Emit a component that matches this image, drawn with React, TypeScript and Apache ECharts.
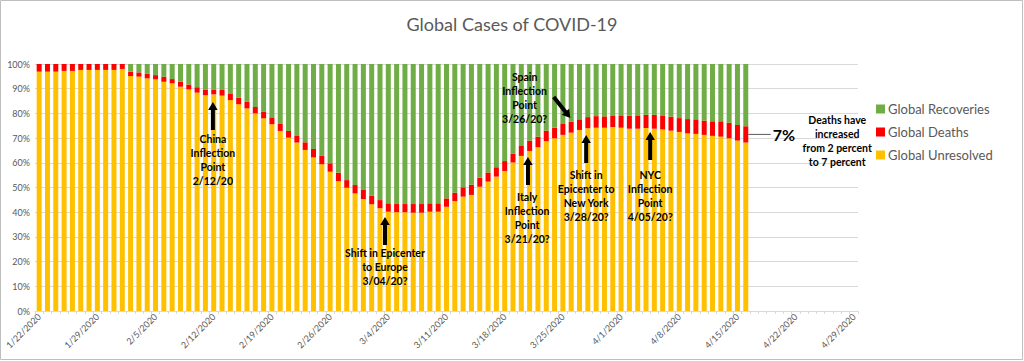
import React, { useEffect, useRef } from "react";
import * as echarts from "echarts";

const categories: string[] = [
  "1/22/2020","1/23/2020","1/24/2020","1/25/2020","1/26/2020","1/27/2020","1/28/2020","1/29/2020","1/30/2020","1/31/2020",
  "2/1/2020","2/2/2020","2/3/2020","2/4/2020","2/5/2020","2/6/2020","2/7/2020","2/8/2020","2/9/2020","2/10/2020",
  "2/11/2020","2/12/2020","2/13/2020","2/14/2020","2/15/2020","2/16/2020","2/17/2020","2/18/2020","2/19/2020","2/20/2020",
  "2/21/2020","2/22/2020","2/23/2020","2/24/2020","2/25/2020","2/26/2020","2/27/2020","2/28/2020","2/29/2020",
  "3/1/2020","3/2/2020","3/3/2020","3/4/2020","3/5/2020","3/6/2020","3/7/2020","3/8/2020","3/9/2020","3/10/2020",
  "3/11/2020","3/12/2020","3/13/2020","3/14/2020","3/15/2020","3/16/2020","3/17/2020","3/18/2020","3/19/2020","3/20/2020",
  "3/21/2020","3/22/2020","3/23/2020","3/24/2020","3/25/2020","3/26/2020","3/27/2020","3/28/2020","3/29/2020","3/30/2020","3/31/2020",
  "4/1/2020","4/2/2020","4/3/2020","4/4/2020","4/5/2020","4/6/2020","4/7/2020","4/8/2020","4/9/2020","4/10/2020",
  "4/11/2020","4/12/2020","4/13/2020","4/14/2020","4/15/2020","4/16/2020","4/17/2020","4/18/2020","4/19/2020","4/20/2020",
  "4/21/2020","4/22/2020","4/23/2020","4/24/2020","4/25/2020","4/26/2020","4/27/2020","4/28/2020","4/29/2020",
];

const unresolved: number[] = [
  96.9, 96.9, 96.9, 97.2, 97.2, 97.6, 97.6, 97.6, 97.6, 97.6,
  98.0, 95.1, 94.9, 94.2, 93.8, 92.8, 92.2, 90.8, 89.7, 88.4,
  87.4, 87.7, 87.2, 85.4, 83.7, 82.0, 80.0, 78.0, 75.6, 72.9,
  70.2, 68.2, 65.2, 62.2, 59.4, 56.4, 52.6, 49.9, 47.6, 45.3,
  43.2, 41.6, 40.2, 40.0, 40.0, 39.8, 39.8, 40.2, 40.2, 42.2,
  44.5, 46.3, 47.0, 50.3, 52.4, 54.4, 56.7, 60.1, 62.8, 64.8,
  66.3, 68.8, 69.9, 71.3, 72.2, 73.3, 74.0, 74.2, 74.2, 74.5,
  74.2, 73.8, 73.8, 74.1, 73.8, 73.5, 73.0, 72.5, 71.9, 71.7,
  71.3, 70.9, 70.6, 69.9, 69.0, 68.2,
];

const deaths: number[] = [
  3.1, 3.1, 3.1, 2.8, 2.8, 2.4, 2.4, 2.4, 2.4, 2.4,
  2.0, 1.8, 1.7, 1.8, 1.7, 2.1, 1.7, 2.0, 2.0, 2.2,
  2.1, 2.0, 2.3, 2.7, 2.7, 2.8, 2.6, 2.6, 2.8, 2.8,
  2.7, 2.9, 3.1, 3.4, 3.4, 3.4, 3.4, 3.1, 3.4, 3.7,
  3.5, 3.3, 3.4, 3.3, 3.3, 3.5, 3.5, 3.4, 3.4, 3.4,
  3.4, 3.8, 4.1, 3.7, 3.7, 3.8, 4.0, 3.7, 4.0, 4.2,
  4.3, 4.2, 4.3, 4.4, 4.5, 4.3, 4.5, 4.7, 4.6, 4.7,
  5.0, 5.3, 5.4, 5.3, 5.6, 5.7, 5.7, 5.6, 5.8, 5.9,
  5.8, 5.9, 6.2, 6.3, 6.3, 6.6,
];

const recoveries: number[] = [
  0, 0, 0, 0, 0, 0, 0, 0, 0, 0,
  0, 3.1, 3.4, 4.0, 4.5, 5.1, 6.1, 7.2, 8.3, 9.4,
  10.5, 10.3, 10.5, 11.9, 13.6, 15.2, 17.4, 19.4, 21.6, 24.3,
  27.1, 28.9, 31.7, 34.4, 37.2, 40.2, 44.0, 47.0, 49.0, 51.0,
  53.3, 55.1, 56.4, 56.7, 56.7, 56.7, 56.7, 56.4, 56.4, 54.4,
  52.1, 49.9, 48.9, 46.0, 43.9, 41.8, 39.3, 36.2, 33.2, 31.0,
  29.4, 27.0, 25.8, 24.3, 23.3, 22.4, 21.5, 21.1, 21.2, 20.8,
  20.8, 20.9, 20.8, 20.6, 20.6, 20.8, 21.3, 21.9, 22.3, 22.4,
  22.9, 23.2, 23.2, 23.8, 24.7, 25.2,
];

const seriesNames = ["Global Unresolved", "Global Deaths", "Global Recoveries"];
const legendOrder = ["Global Recoveries", "Global Deaths", "Global Unresolved"];

// Annotations anchored in data space (category index, percent)
const annotations = [
  { text: "China\nInflection\nPoint\n2/12/20", textIdx: 20.9, textPct: 72.5, tail: [20.9, 73.3], tip: [20.9, 84.6] },
  { text: "Shift in Epicenter\nto Europe\n3/04/20?", textIdx: 41.6, textPct: 26.3, tail: [41.6, 26.7], tip: [41.6, 38.1] },
  { text: "Italy\nInflection\nPoint\n3/21/20?", textIdx: 58.7, textPct: 49.0, tail: [58.8, 51.0], tip: [58.8, 62.3] },
  { text: "Spain\nInflection\nPoint\n3/26/20?", textIdx: 58.4, textPct: 97.6, tail: [61.9, 86.6], tip: [63.9, 78.1] },
  { text: "Shift in\nEpicenter to\nNew York\n3/28/20?", textIdx: 65.8, textPct: 57.9, tail: [65.8, 59.9], tip: [65.8, 71.3] },
  { text: "NYC\nInflection\nPoint\n4/05/20?", textIdx: 73.5, textPct: 57.9, tail: [73.5, 61.1], tip: [73.5, 72.5] },
];
const calloutText = "Deaths have\nincreased\nfrom 2 percent\nto 7 percent";
const calloutValue = "7%";

const FONT = "Lato, 'Open Sans', sans-serif";

function arrowPoints(tail: number[], tip: number[], shaftW = 4, headW = 9.5, headL = 8) {
  const dx = tip[0] - tail[0];
  const dy = tip[1] - tail[1];
  const len = Math.hypot(dx, dy) || 1;
  const ux = dx / len, uy = dy / len;
  const nx = -uy, ny = ux;
  const bx = tip[0] - ux * headL, by = tip[1] - uy * headL;
  return [
    [tail[0] + (nx * shaftW) / 2, tail[1] + (ny * shaftW) / 2],
    [bx + (nx * shaftW) / 2, by + (ny * shaftW) / 2],
    [bx + (nx * headW) / 2, by + (ny * headW) / 2],
    [tip[0], tip[1]],
    [bx - (nx * headW) / 2, by - (ny * headW) / 2],
    [bx - (nx * shaftW) / 2, by - (ny * shaftW) / 2],
    [tail[0] - (nx * shaftW) / 2, tail[1] - (ny * shaftW) / 2],
  ];
}

export default function App() {
  const ref = useRef<HTMLDivElement>(null);

  useEffect(() => {
    if (!ref.current) return;
    const chart = echarts.init(ref.current, undefined, { renderer: "svg" });
    const colors = ["#FFC000", "#FF0000", "#70AD47"];
    const dataSets = [unresolved, deaths, recoveries];

    const option: any = {
      animation: false,
      backgroundColor: "#ffffff",
      title: {
        text: "Global Cases of COVID-19",
        left: "center",
        top: 10,
        textStyle: { fontSize: 18, fontWeight: "normal", color: "#595959", fontFamily: FONT },
      },
      legend: {
        orient: "vertical",
        left: 876,
        top: 102,
        padding: 0,
        itemWidth: 9,
        itemHeight: 9,
        itemGap: 9,
        icon: "rect",
        data: legendOrder,
        textStyle: { fontSize: 13, color: "#595959", fontFamily: FONT, lineHeight: 14, padding: [0, 0, 0, -2] },
      },
      grid: { left: 35, right: 166, top: 64, bottom: 50 },
      xAxis: {
        type: "category",
        data: categories,
        boundaryGap: true,
        axisLine: { lineStyle: { color: "#d9d9d9" } },
        axisTick: { show: true, interval: 0, length: 3, alignWithLabel: false, lineStyle: { color: "#d9d9d9" } },
        axisLabel: { interval: 6, rotate: 45, fontSize: 9, color: "#595959", margin: 4, fontFamily: FONT },
      },
      yAxis: {
        type: "value",
        min: 0,
        max: 100,
        interval: 10,
        axisLine: { show: false },
        axisTick: { show: false },
        axisLabel: { formatter: "{value}%", fontSize: 9, color: "#595959", margin: 5, fontFamily: FONT },
        splitLine: { lineStyle: { color: "#d9d9d9" } },
      },
      series: seriesNames.map((name, i) => ({
        name,
        type: "bar",
        stack: "total",
        barWidth: 5,
        itemStyle: { color: colors[i] },
        data: dataSets[i],
      })),
    };
    chart.setOption(option);

    const a0 = chart.convertToPixel({ gridIndex: 0 } as any, [0, 0]) as number[];
    const a1 = chart.convertToPixel({ gridIndex: 0 } as any, [1, 0]) as number[];
    const step = a1[0] - a0[0];
    const px = (idx: number, pct: number) => {
      const p = chart.convertToPixel({ gridIndex: 0 } as any, [0, pct]) as number[];
      return [a0[0] + step * idx, p[1]];
    };

    const graphics: any[] = [
      {
        type: "rect",
        shape: { x: 0.5, y: 0.5, width: 1022, height: 359 },
        style: { fill: "none", stroke: "#bfbfbf", lineWidth: 1 },
        silent: true,
      },
    ];
    annotations.forEach((a) => {
      const t = px(a.textIdx, a.textPct);
      graphics.push({
        type: "text",
        x: t[0],
        y: t[1],
        style: {
          text: a.text,
          fill: "#000000",
          font: `bold 10.5px ${FONT}`,
          verticalAlign: "top",
          align: "center",
          lineHeight: 14,
        },
        z: 10,
      });
      graphics.push({
        type: "polygon",
        shape: { points: arrowPoints(px(a.tail[0], a.tail[1]), px(a.tip[0], a.tip[1])) },
        style: { fill: "#000000" },
        z: 10,
      });
    });

    const lastIdx = unresolved.length - 1;
    const midPct = unresolved[lastIdx] + deaths[lastIdx] / 2;
    const l0 = px(lastIdx + 0.3, midPct);
    const l1 = px(lastIdx + 3.0, midPct);
    graphics.push({
      type: "line",
      shape: { x1: l0[0], y1: l0[1], x2: l1[0], y2: l1[1] },
      style: { stroke: "#595959", lineWidth: 1 },
      z: 10,
    });
    graphics.push({
      type: "text",
      x: l1[0] + 2,
      y: l1[1],
      style: {
        text: calloutValue,
        fill: "#000000",
        font: `bold 16px ${FONT}`,
        align: "left",
        verticalAlign: "middle",
      },
      z: 10,
    });
    const c = px(lastIdx + 11.0, midPct);
    graphics.push({
      type: "text",
      x: c[0],
      y: c[1] - 21,
      style: {
        text: calloutText,
        fill: "#000000",
        font: `bold 10.5px ${FONT}`,
        align: "center",
        verticalAlign: "top",
        lineHeight: 14,
      },
      z: 10,
    });

    chart.setOption({ graphic: graphics });

    return () => chart.dispose();
  }, []);

  return (
    <div
      ref={ref}
      style={{ position: "fixed", left: 0, top: 0, width: 1024, height: 361 }}
    />
  );
}
